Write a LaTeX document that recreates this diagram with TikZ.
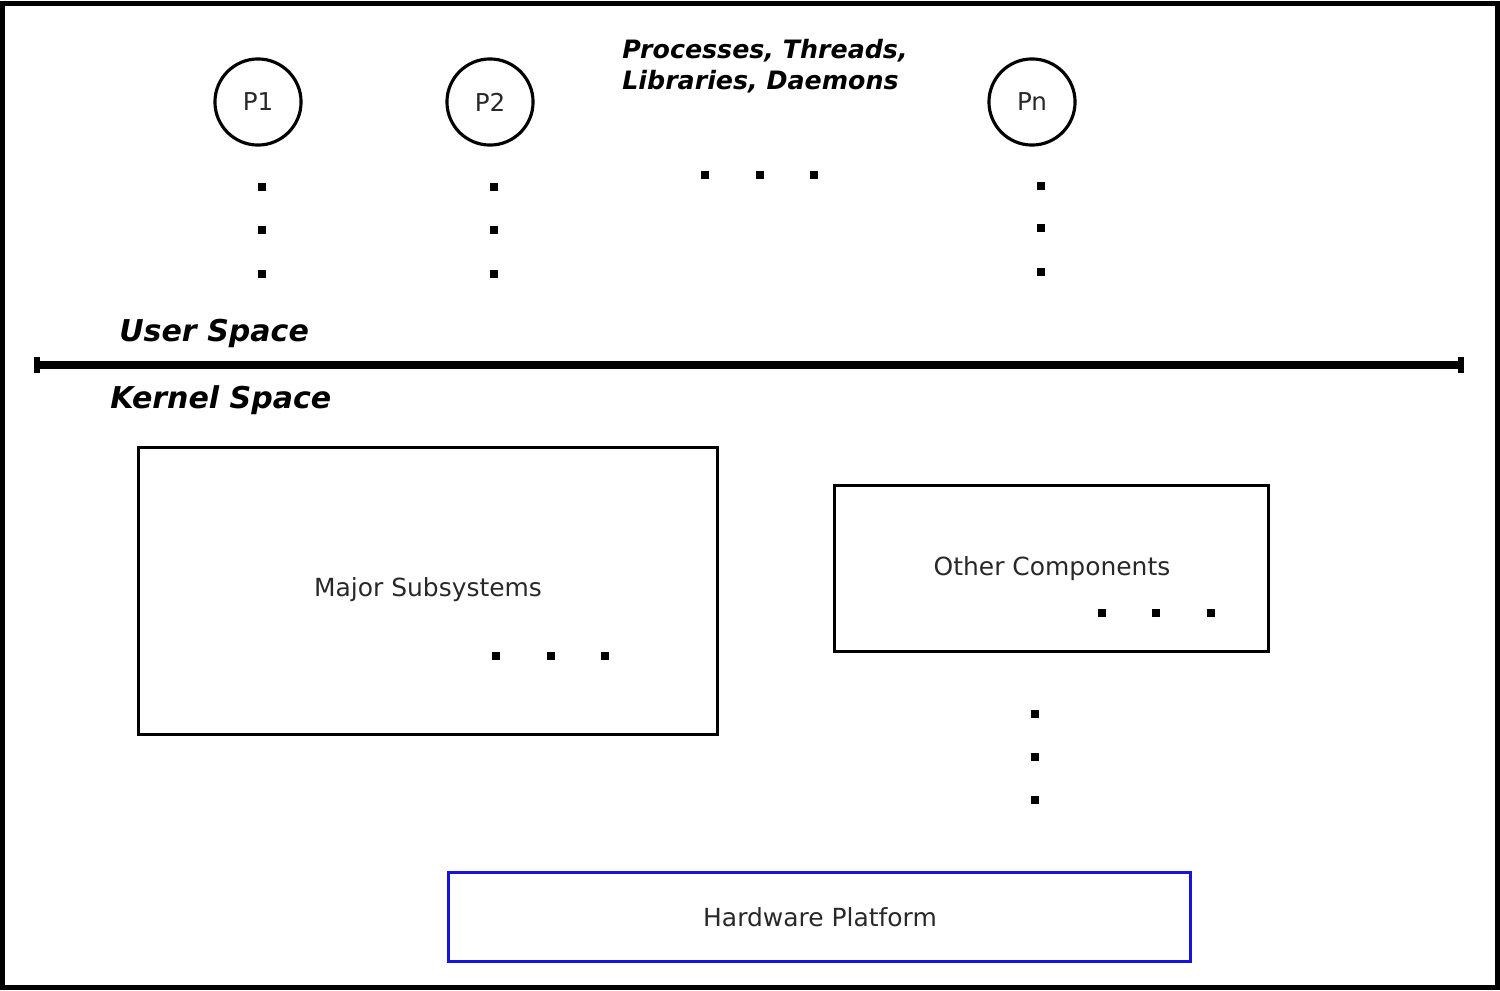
\documentclass[tikz,border=0pt]{standalone}
\usepackage{fontspec}
\setmainfont{DejaVu Sans}
\usetikzlibrary{positioning}
\definecolor{hwblue}{RGB}{20,20,220}
\definecolor{txt}{RGB}{40,40,40}
\tikzset{
  proc/.style={circle, draw, line width=1.8pt, minimum size=49pt, inner sep=0pt, font=\fontsize{14}{16}\selectfont, text=txt},
  compbox/.style={draw, line width=1.6pt, inner sep=0pt},
  lbl/.style={font=\fontsize{14.2}{16}\selectfont, text=txt, inner sep=0pt},
  ttl/.style={font=\bfseries\itshape\fontsize{17.1}{20}\selectfont, inner sep=0pt, anchor=west},
  sttl/.style={font=\bfseries\itshape\fontsize{14.4}{17}\selectfont, inner sep=0pt, anchor=north west, align=left},
  barend/.style={fill, inner sep=0pt, minimum width=3pt, minimum height=9pt}
}
\newcommand{\sq}[2]{\fill (#1-4,#2-4) rectangle (#1+4,#2+4);}
\begin{document}
\begin{tikzpicture}[x=0.02cm, y=-0.02cm]
\useasboundingbox (0,0) rectangle (1500,990);
% outer frame
\draw[line width=2.8pt] (2.5,3.5) rectangle (1497.5,987.5);

% processes
\node[proc] (p1) at (258,102) {P1};
\node[proc] (p2) at (490,102) {P2};
\node[proc] (pn) at (1032,102) {Pn};
\node[sttl] (procs) at (622,39) {Processes, Threads,\\[0.5pt]Libraries, Daemons};

% dots
\foreach \y in {187,230,274} {\sq{262}{\y} \sq{494}{\y}}
\foreach \y in {186,228,272} {\sq{1041}{\y}}
\foreach \x in {705,760,814} {\sq{\x}{175}}

% separator
\node[ttl] (user) at (119,333) {User Space};
\node[ttl] (kernel) at (110,400) {Kernel Space};
\node[barend] (lend) at (37,365) {};
\node[barend] (rend) at (1461,365) {};
\draw[line width=4pt] (lend.center) -- (rend.center);

% kernel boxes
\node[compbox, minimum width=582*0.567pt, minimum height=288*0.567pt] (major) at (428,591) {};
\node[lbl] (majort) at (428,590) {Major Subsystems};
\foreach \x in {496,551,605} {\sq{\x}{656}}

\node[compbox, minimum width=435*0.567pt, minimum height=167*0.567pt] (other) at (1051.5,568.5) {};
\node[lbl] (othert) at (1052,569) {Other Components};
\foreach \x in {1102,1156,1211} {\sq{\x}{613}}

\foreach \y in {714,757,800} {\sq{1035}{\y}}

\node[compbox, draw=hwblue, minimum width=745*0.567pt, minimum height=90*0.567pt] (hw) at (819.5,917) {};
\node[lbl] (hwt) at (820,917) {Hardware Platform};
\end{tikzpicture}
\end{document}
